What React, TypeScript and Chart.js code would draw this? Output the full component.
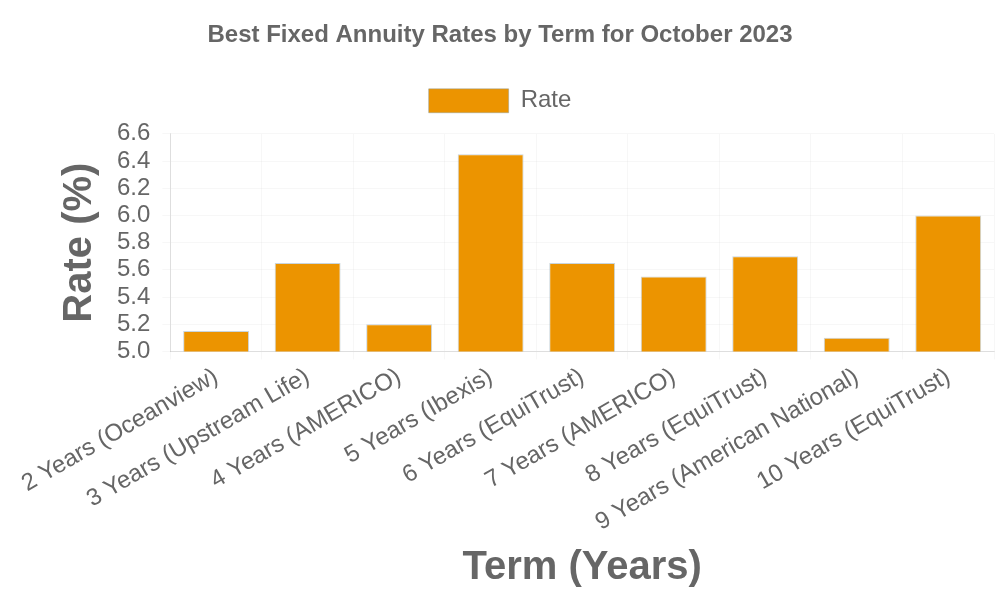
import { useEffect, useRef } from "react";
import { Chart, registerables } from "chart.js";

Chart.register(...registerables);

const terms = [
  "2 Years (Oceanview)",
  "3 Years (Upstream Life)",
  "4 Years (AMERICO)",
  "5 Years (Ibexis)",
  "6 Years (EquiTrust)",
  "7 Years (AMERICO)",
  "8 Years (EquiTrust)",
  "9 Years (American National)",
  "10 Years (EquiTrust)",
];
const rates = [5.15, 5.65, 5.2, 6.45, 5.65, 5.55, 5.7, 5.1, 6.0];

export default function App() {
  const chartRef = useRef<HTMLCanvasElement>(null);
  const chartInstance = useRef<Chart | null>(null);

  useEffect(() => {
    if (!chartRef.current) return;
    if (chartInstance.current) chartInstance.current.destroy();
    const ctx = chartRef.current.getContext("2d");
    if (!ctx) return;

    Chart.defaults.font.family = "'Liberation Sans', Arial, sans-serif";
    Chart.defaults.color = "#666";

    chartInstance.current = new Chart(ctx, {
      type: "bar",
      data: {
        labels: terms,
        datasets: [
          {
            label: "Rate",
            data: rates,
            backgroundColor: "#ec9400",
            borderColor: "rgba(120,150,170,0.4)",
            borderWidth: 1,
          },
        ],
      },
      options: {
        responsive: true,
        maintainAspectRatio: false,
        animation: false,
        layout: { padding: { top: 11, right: 6, left: 6, bottom: 4 } },
        plugins: {
          title: {
            display: true,
            text: "Best Fixed Annuity Rates by Term for October 2023",
            font: { size: 24, weight: "bold" },
            color: "#666",
            padding: { top: 10, bottom: 7 },
          },
          // empty spacer below the legend
          subtitle: {
            display: true,
            text: " ",
            weight: 500,
            font: { size: 1, lineHeight: 1 },
            padding: { top: 0, bottom: 10 },
          },
          legend: {
            labels: {
              font: { size: 24 },
              boxWidth: 80,
              boxHeight: 24,
              padding: 32,
              color: "#666",
            },
          },
          tooltip: { enabled: false },
        },
        scales: {
          y: {
            min: 5.0,
            max: 6.6,
            ticks: {
              stepSize: 0.2,
              autoSkip: false,
              padding: 12,
              font: { size: 24 },
              color: "#666",
              callback: (v) => Number(v).toFixed(1),
            },
            grid: { color: "rgba(0,0,0,0.03)" },
            border: { color: "rgba(0,0,0,0.1)" },
            title: {
              display: true,
              text: "Rate (%)",
              font: { size: 40, weight: "bold" },
              color: "#666",
              padding: { top: 50, bottom: 1 },
            },
          },
          x: {
            ticks: {
              font: { size: 24 },
              color: "#666",
              minRotation: 30,
              maxRotation: 30,
            },
            grid: { color: "rgba(0,0,0,0.03)" },
            border: { color: "rgba(0,0,0,0.1)" },
            title: {
              display: true,
              text: "Term (Years)",
              font: { size: 40, weight: "bold" },
              color: "#666",
            },
          },
        },
      },
    });

    return () => {
      if (chartInstance.current) {
        chartInstance.current.destroy();
        chartInstance.current = null;
      }
    };
  }, []);

  return (
    <div style={{ position: "absolute", left: 0, top: 0, width: 1000, height: 600 }}>
      <canvas ref={chartRef} />
    </div>
  );
}
